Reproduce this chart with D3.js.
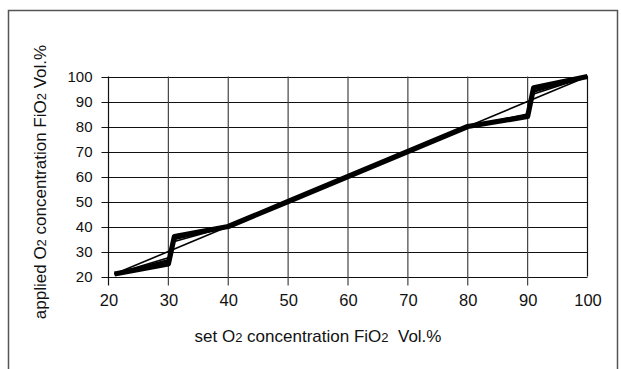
<!DOCTYPE html>
<html>
<head>
<meta charset="utf-8">
<script src="https://cdn.jsdelivr.net/npm/d3@7"></script>
<style>
  body { margin: 0; background: #fff; }
  svg { display: block; font-family: "Liberation Sans", Arial, sans-serif; }
  .title { white-space: pre; }
</style>
</head>
<body>
<svg width="621" height="369"></svg>
<script>
// data
var xTicks = [20, 30, 40, 50, 60, 70, 80, 90, 100];
var yTicks = [20, 30, 40, 50, 60, 70, 80, 90, 100];

var setO2 = [21, 30, 31, 40, 50, 60, 70, 80, 90, 91, 100];
var appliedMain = [21, 25, 36, 40, 50, 60, 70, 80, 84, 95.5, 100];
var appliedMid = [21, 26.5, 35, 40, 50, 60, 70, 80, 84.5, 94, 100];
var appliedLow = [21, 27.5, 34, 40, 50, 60, 70, 80, 85, 93, 100];
var idealX = [21, 100];
var idealY = [21, 100];

var svg = d3.select("svg");

// frame
svg.append("path")
	.attr("d", "M8.5,380 V10.5 H617.5 V380")
	.attr("fill", "none")
	.attr("stroke", "#555")
	.attr("stroke-width", 1.5);

var x = d3.scaleLinear().domain([20, 100]).range([108.5, 587.5]);
var y = d3.scaleLinear().domain([20, 100]).range([276.5, 76.5]);

// horizontal grid
svg.append("g")
	.selectAll("line")
	.data(yTicks)
	.enter().append("line")
	.attr("x1", x(20) - 7)
	.attr("x2", x(100))
	.attr("y1", function (d) { return Math.round(y(d)) + 0.5; })
	.attr("y2", function (d) { return Math.round(y(d)) + 0.5; })
	.attr("stroke", "#111")
	.attr("stroke-width", 1.2);

// vertical grid
svg.append("g")
	.selectAll("line")
	.data(xTicks)
	.enter().append("line")
	.attr("x1", function (d) { return x(d); })
	.attr("x2", function (d) { return x(d); })
	.attr("y1", y(100))
	.attr("y2", function (d) { return d == 100 ? y(20) : y(20) + 9; })
	.attr("stroke", function (d) { return (d == 20 || d == 100) ? "#111" : "#444"; })
	.attr("stroke-width", 1.2);

// tick labels
var yAxis = svg.append("g")
	.attr("transform", "translate(" + (x(20) - 7) + ",0)")
	.call(d3.axisLeft(y).tickValues(yTicks).tickSize(0).tickPadding(9));
yAxis.select(".domain").remove();
yAxis.selectAll("text")
	.attr("font-family", "Liberation Sans, Arial, sans-serif")
	.attr("font-size", 15)
	.attr("fill", "#111");

var xAxis = svg.append("g")
	.attr("transform", "translate(0," + (y(20) + 9) + ")")
	.call(d3.axisBottom(x).tickValues(xTicks).tickSize(0).tickPadding(9));
xAxis.select(".domain").remove();
xAxis.selectAll("text")
	.attr("font-family", "Liberation Sans, Arial, sans-serif")
	.attr("font-size", 16.5)
	.attr("fill", "#111");

// lines
var line = d3.line()
	.x(function (d) { return x(d[0]); })
	.y(function (d) { return y(d[1]); });

function draw(xs, ys, w) {
	svg.append("path")
		.datum(d3.zip(xs, ys))
		.attr("d", line)
		.attr("fill", "none")
		.attr("stroke", "#000")
		.attr("stroke-width", w)
		.attr("stroke-linejoin", "round");
}

draw(idealX, idealY, 1.6);
draw(setO2, appliedLow, 1.6);
draw(setO2, appliedMid, 2.4);
draw(setO2, appliedMain, 5.2);

// axis titles
var xt = svg.append("text")
	.attr("class", "title")
	.attr("x", 318)
	.attr("y", 342)
	.attr("text-anchor", "middle")
	.attr("font-size", 17)
	.attr("fill", "#111");
xt.append("tspan").text("set O");
xt.append("tspan").attr("font-size", 13).text("2");
xt.append("tspan").text(" concentration FiO");
xt.append("tspan").attr("font-size", 13).text("2");
xt.append("tspan").text("  Vol.%");

var yt = svg.append("text")
	.attr("class", "title")
	.attr("transform", "translate(46,182) rotate(-90)")
	.attr("text-anchor", "middle")
	.attr("font-size", 17)
	.attr("fill", "#111");
yt.append("tspan").text("applied O");
yt.append("tspan").attr("font-size", 13).text("2");
yt.append("tspan").text(" concentration FiO");
yt.append("tspan").attr("font-size", 13).text("2");
yt.append("tspan").text(" Vol.%");
</script>
</body>
</html>
